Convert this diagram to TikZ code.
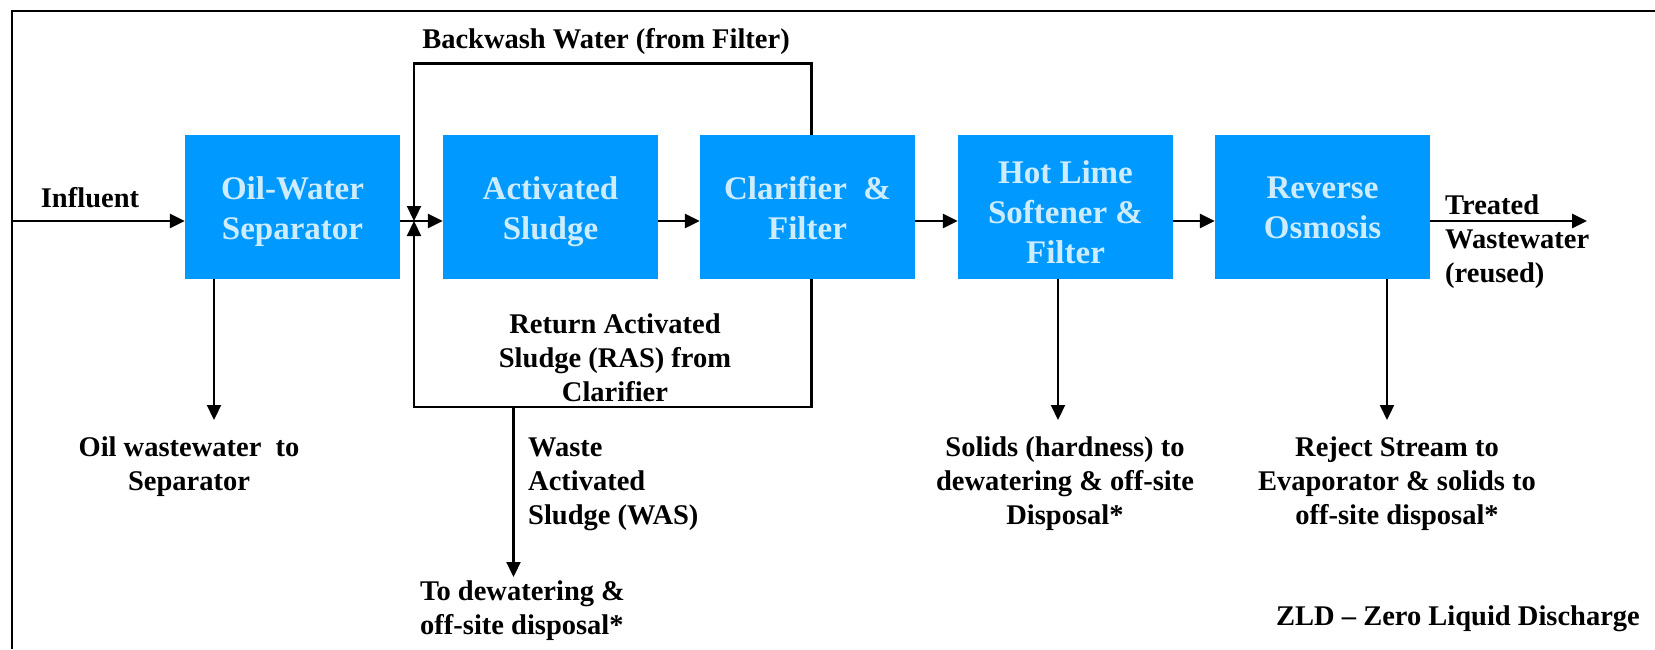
\documentclass[tikz,border=0pt]{standalone}
\usepackage{fontspec}
\setmainfont{Liberation Serif}
\usetikzlibrary{arrows.meta}
\definecolor{boxblue}{RGB}{0,153,255}
\definecolor{boxtext}{RGB}{205,236,255}
\tikzset{
  procbox/.style={fill=boxblue, draw=none, minimum width=215pt, minimum height=144pt,
    inner sep=0pt},
  boxtxt/.style={inner sep=0pt, align=center, text=boxtext, yshift=-5pt,
    font=\fontsize{33}{40}\selectfont\bfseries},
  lbl/.style={inner sep=0pt, font=\fontsize{28.5}{34}\selectfont\bfseries},
  tipa/.tip={Triangle[length=15pt,width=14pt]},
  flow/.style={line width=2.8pt, -tipa},
  fba/.style={line width=2.2pt, -tipa},
  framestyle/.style={line width=2.2pt}
}
\begin{document}
\begin{tikzpicture}[x=1pt,y=-1pt]
\path[use as bounding box] (0,0) rectangle (1655,649);
% frame (cropped)
\draw[framestyle] (11.6,649) -- (11.6,10.7) -- (1655,10.7);

% process boxes
\node[procbox, label={[boxtxt]center:{Oil-Water\\Separator}}] (ows) at (292.5,207) {};
\node[procbox, label={[boxtxt]center:{Activated\\Sludge}}] (as)  at (550.5,207) {};
\node[procbox, label={[boxtxt,yshift=4pt]center:{Clarifier\ \ \&\\Filter}}] (cf)  at (807.5,207) {};
\node[procbox, label={[boxtxt]center:{Hot Lime\\Softener \&\\Filter}}] (hl)  at (1065.5,207) {};
\node[procbox, label={[boxtxt,yshift=4pt]center:{Reverse\\Osmosis}}] (ro)  at (1322.5,207) {};

% coordinates
\coordinate (main) at (0,221);
\coordinate (inl) at (11.6,221);
\coordinate (j) at (414,221);
\coordinate (bwtop) at (0,63.5);
\coordinate (rasbot) at (0,407);
\coordinate (loopx) at (811.5,0);
\coordinate (wasTop) at (513.5,407);
\coordinate (wasEnd) at (513.5,577);
\coordinate (owsEnd) at (214,420);
\coordinate (hlEnd) at (1058,420);
\coordinate (roEnd) at (1387,420);
\coordinate (outEnd) at (1587,221);

% main flow
\draw[flow] (inl) -- (ows.west |- main);
\draw[flow] (ows.east |- main) -- (as.west |- main);
\draw[flow] (as.east |- main) -- (cf.west |- main);
\draw[flow] (cf.east |- main) -- (hl.west |- main);
\draw[flow] (hl.east |- main) -- (ro.west |- main);
\draw[flow] (ro.east |- main) -- (outEnd);

% backwash loop
\draw[fba] (loopx |- cf.north) -- (loopx |- bwtop) -- (bwtop -| j) -- (j);
% RAS loop
\draw[fba] (loopx |- cf.south) -- (loopx |- rasbot) -- (rasbot -| j) -- (j);
% WAS
\draw[fba] (wasTop) -- (wasEnd);
% side streams
\draw[fba] (owsEnd |- ows.south) -- (owsEnd);
\draw[fba] (hlEnd |- hl.south) -- (hlEnd);
\draw[fba] (roEnd |- ro.south) -- (roEnd);

% labels (anchor=base is the baseline of the last line)
\node[lbl, anchor=base] (tinf) at (90,207) {Influent};
\node[lbl, anchor=base] (tbw) at (606,48) {Backwash Water (from Filter)};
\node[lbl, anchor=base, align=center] (tras) at (615,401) {Return Activated\\Sludge (RAS) from\\Clarifier};
\node[lbl, anchor=base west, align=left] (twas) at (528,524) {Waste\\Activated\\Sludge (WAS)};
\node[lbl, anchor=base west, align=left] (tdew) at (420,634) {To dewatering \&\\off-site disposal*};
\node[lbl, anchor=base, align=center] (toil) at (189,490) {Oil wastewater\ \ to\\Separator};
\node[lbl, anchor=base, align=center] (tsol) at (1065,524) {Solids (hardness) to\\dewatering \& off-site\\Disposal*};
\node[lbl, anchor=base, align=center] (trej) at (1397,524) {Reject Stream to\\Evaporator \& solids to\\off-site disposal*};
\node[lbl, anchor=base west, align=left] (ttw) at (1445,282) {Treated\\Wastewater\\(reused)};
\node[lbl, anchor=base] (tzld) at (1458,625) {ZLD -- Zero Liquid Discharge};
\end{tikzpicture}
\end{document}
